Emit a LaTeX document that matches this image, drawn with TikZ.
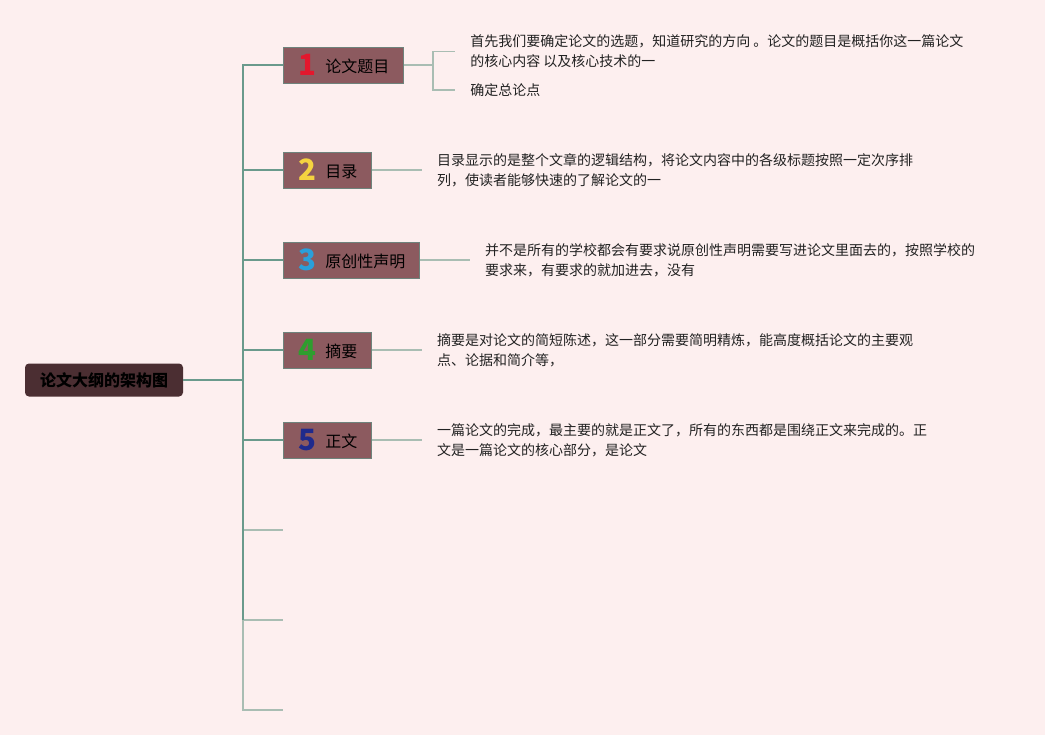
\documentclass[tikz,border=0pt]{standalone}
\usepackage{fontspec}
\setmainfont{Noto Sans CJK SC}
\usetikzlibrary{positioning,calc}
\definecolor{bgpink}{HTML}{FDEFEF}
\definecolor{rootfill}{HTML}{4B2E32}
\definecolor{boxfill}{HTML}{8C5A5F}
\definecolor{boxline}{HTML}{6E837C}
\definecolor{trunkc}{HTML}{6A9A8C}
\definecolor{leafc}{HTML}{A9BDB3}
\definecolor{txt}{HTML}{222222}
\definecolor{nred}{HTML}{E3172D}
\definecolor{nyel}{HTML}{F5D340}
\definecolor{nblue}{HTML}{2A9FDA}
\definecolor{ngreen}{HTML}{2E9E2E}
\definecolor{nnavy}{HTML}{1F2A8C}
\newcommand{\numtag}[2]{\raisebox{-2.5pt}{\makebox[15pt][c]{\fontsize{22}{22}\selectfont\bfseries\color{#1}#2}}\hspace{6pt}}
\tikzset{
  root/.style={rectangle, rounded corners=3pt, fill=rootfill, text=black,
               minimum width=118.5pt, minimum height=24.75pt,
               font=\fontsize{12}{14}\selectfont\bfseries},
  topic/.style={rectangle, draw=boxline, fill=boxfill, line width=0.6pt, text=black,
                minimum height=27pt, inner xsep=10.5pt, inner ysep=0pt,
                font=\fontsize{12}{14}\selectfont},
  desc/.style={inner xsep=11.25pt, inner ysep=0pt, align=left, text=txt,
               font=\fontsize{10.5}{15}\selectfont},
  trunk/.style={draw=trunkc, line width=1pt},
  leaf/.style={draw=leafc, line width=1pt}
}
\begin{document}
\begin{tikzpicture}[x=0.75pt, y=-0.75pt]
\useasboundingbox (0,0) rectangle (1045,735);
\fill[bgpink] (0,0) rectangle (1045,735);
\node[root] (root) at (104,380) {论文大纲的架构图};
\coordinate (t) at (243,380);
\node[topic, anchor=west] (b1) at (283,65) {\numtag{nred}{1}论文题目};
\node[topic, anchor=west] (b2) at (283,170) {\numtag{nyel}{2}目录};
\node[topic, anchor=west] (b3) at (283,260) {\numtag{nblue}{3}原创性声明};
\node[topic, anchor=west] (b4) at (283,350) {\numtag{ngreen}{4}摘要};
\node[topic, anchor=west] (b5) at (283,440) {\numtag{nnavy}{5}正文};
\coordinate (e6) at (283,530);
\coordinate (e7) at (283,620);
\coordinate (e8) at (283,710);
\coordinate (s1) at (433,65);
\node[desc, anchor=west] (d1a) at (455,51.5) {首先我们要确定论文的选题，知道研究的方向 。论文的题目是概括你这一篇论文\\的核心内容 以及核心技术的一};
\node[desc, anchor=west] (d1b) at (455,90) {确定总论点};
\node[desc, right=37.5pt of b2] (d2) {目录显示的是整个文章的逻辑结构，将论文内容中的各级标题按照一定次序排\\列，使读者能够快速的了解论文的一};
\node[desc, right=37.5pt of b3] (d3) {并不是所有的学校都会有要求说原创性声明需要写进论文里面去的，按照学校的\\要求来，有要求的就加进去，没有};
\node[desc, right=37.5pt of b4] (d4) {摘要是对论文的简短陈述，这一部分需要简明精炼，能高度概括论文的主要观\\点、论据和简介等，};
\node[desc, right=37.5pt of b5] (d5) {一篇论文的完成，最主要的就是正文了，所有的东西都是围绕正文来完成的。正\\文是一篇论文的核心部分，是论文};
\foreach \e in {e6,e7,e8} \draw[leaf] (t) |- (\e);
\draw[trunk] (root.east) -- (t);
\draw[trunk] (t) -- (t |- e7);
\foreach \b in {b1,b2,b3,b4,b5} \draw[trunk] (t) |- (\b.west);
\draw[leaf] (b1.east) -- (s1);
\draw[leaf] (s1) |- (d1a.west);
\draw[leaf] (s1) |- (d1b.west);
\draw[leaf] (b2) -- (d2);
\draw[leaf] (b3) -- (d3);
\draw[leaf] (b4) -- (d4);
\draw[leaf] (b5) -- (d5);
\end{tikzpicture}
\end{document}
